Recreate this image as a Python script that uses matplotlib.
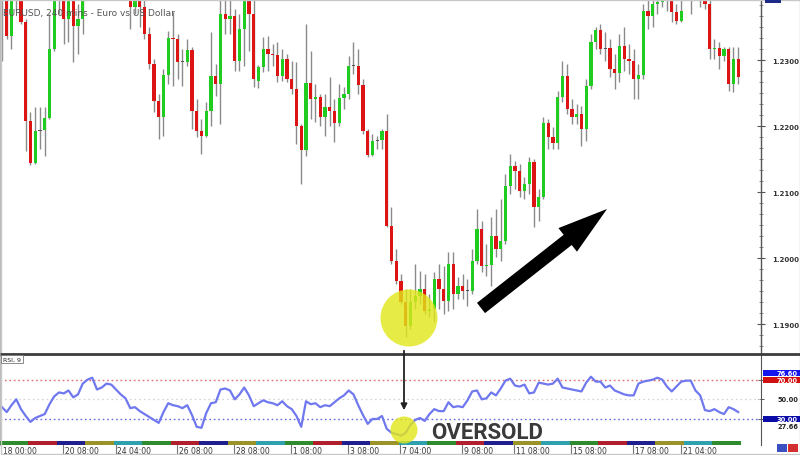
import matplotlib
matplotlib.use('Agg')
import matplotlib.pyplot as plt
import numpy as np
from matplotlib.patches import Rectangle, Circle, FancyArrow
from matplotlib.transforms import blended_transform_factory
from matplotlib.ticker import FixedLocator, AutoMinorLocator, FormatStrFormatter

# ---------------- data (EURUSD, 4-hour candles) ----------------
opens = [1.2423, 1.2408, 1.2337, 1.2401, 1.2393, 1.2358, 1.2208, 1.2144, 1.2193, 1.2194,
         1.2213, 1.2317, 1.2401, 1.2416, 1.2363, 1.2398, 1.2352, 1.2363, 1.2401, 1.2431,
         1.2454, 1.2438, 1.2469, 1.2461, 1.2484, 1.2454, 1.2438, 1.2416, 1.2381, 1.2401,
         1.2381, 1.2340, 1.2294, 1.2238, 1.2214, 1.2278, 1.2334, 1.2332, 1.2297, 1.2297,
         1.2316, 1.2223, 1.2193, 1.2185, 1.2223, 1.2276, 1.2264, 1.2370, 1.2363, 1.2367,
         1.2299, 1.2348, 1.2401, 1.2370, 1.2269, 1.2290, 1.2317, 1.2310, 1.2308, 1.2276,
         1.2302, 1.2272, 1.2257, 1.2200, 1.2164, 1.2266, 1.2241, 1.2244, 1.2214, 1.2229,
         1.2223, 1.2205, 1.2243, 1.2249, 1.2291, 1.2292, 1.2263, 1.2193, 1.2157, 1.2178,
         1.2179, 1.2193, 1.2049, 1.1996, 1.1965, 1.1934, 1.1897, 1.1934, 1.1943, 1.1953,
         1.1920, 1.1923, 1.1969, 1.1953, 1.1935, 1.1991, 1.1946, 1.1958, 1.1950, 1.1951,
         1.1996, 1.2044, 1.1988, 1.1990, 1.2034, 1.2014, 1.2026, 1.2110, 1.2140, 1.2132,
         1.2102, 1.2113, 1.2146, 1.2078, 1.2093, 1.2205, 1.2184, 1.2175, 1.2244, 1.2276,
         1.2226, 1.2214, 1.2219, 1.2196, 1.2261, 1.2328, 1.2346, 1.2317, 1.2318, 1.2287,
         1.2281, 1.2322, 1.2302, 1.2299, 1.2272, 1.2278, 1.2375, 1.2367, 1.2385, 1.2388,
         1.2398, 1.2408, 1.2373, 1.2360, 1.2401, 1.2416, 1.2423, 1.2401, 1.2393, 1.2385,
         1.2317, 1.2319, 1.2307, 1.2317, 1.2264, 1.2302]
closes = [1.2408, 1.2337, 1.2401, 1.2393, 1.2358, 1.2208, 1.2144, 1.2193, 1.2194, 1.2213,
          1.2317, 1.2401, 1.2416, 1.2363, 1.2398, 1.2352, 1.2363, 1.2401, 1.2431, 1.2454,
          1.2438, 1.2469, 1.2461, 1.2484, 1.2454, 1.2438, 1.2416, 1.2381, 1.2401, 1.2381,
          1.2340, 1.2294, 1.2238, 1.2214, 1.2278, 1.2334, 1.2332, 1.2297, 1.2297, 1.2316,
          1.2223, 1.2193, 1.2185, 1.2223, 1.2276, 1.2264, 1.2370, 1.2363, 1.2367, 1.2299,
          1.2348, 1.2401, 1.2370, 1.2272, 1.2290, 1.2317, 1.2310, 1.2308, 1.2276, 1.2302,
          1.2272, 1.2257, 1.2200, 1.2164, 1.2266, 1.2241, 1.2244, 1.2214, 1.2229, 1.2223,
          1.2205, 1.2243, 1.2249, 1.2291, 1.2292, 1.2263, 1.2193, 1.2157, 1.2178, 1.2179,
          1.2193, 1.2049, 1.1996, 1.1965, 1.1934, 1.1897, 1.1934, 1.1943, 1.1953, 1.1920,
          1.1923, 1.1969, 1.1953, 1.1935, 1.1991, 1.1946, 1.1958, 1.1950, 1.1951, 1.1996,
          1.2044, 1.1988, 1.1990, 1.2034, 1.2014, 1.2026, 1.2110, 1.2140, 1.2132, 1.2102,
          1.2113, 1.2146, 1.2078, 1.2093, 1.2205, 1.2184, 1.2175, 1.2244, 1.2276, 1.2226,
          1.2214, 1.2219, 1.2196, 1.2261, 1.2328, 1.2346, 1.2317, 1.2318, 1.2287, 1.2281,
          1.2322, 1.2302, 1.2299, 1.2272, 1.2278, 1.2375, 1.2367, 1.2385, 1.2388, 1.2398,
          1.2408, 1.2373, 1.2360, 1.2375, 1.2416, 1.2423, 1.2431, 1.2393, 1.2385, 1.2317,
          1.2319, 1.2307, 1.2317, 1.2264, 1.2302, 1.2275]
highs = [1.2454, 1.2416, 1.2411, 1.2411, 1.2405, 1.2363, 1.2222, 1.2229, 1.2229, 1.2229,
         1.2370, 1.2423, 1.2438, 1.2431, 1.2408, 1.2408, 1.2385, 1.2416, 1.2446, 1.2469,
         1.2476, 1.2484, 1.2492, 1.2499, 1.2507, 1.2469, 1.2454, 1.2423, 1.2416, 1.2416,
         1.2393, 1.2351, 1.2302, 1.2249, 1.2287, 1.2344, 1.2373, 1.2340, 1.2317, 1.2332,
         1.2320, 1.2241, 1.2211, 1.2237, 1.2343, 1.2294, 1.2393, 1.2401, 1.2393, 1.2378,
         1.2370, 1.2408, 1.2408, 1.2393, 1.2293, 1.2335, 1.2337, 1.2325, 1.2328, 1.2317,
         1.2310, 1.2299, 1.2297, 1.2203, 1.2355, 1.2314, 1.2264, 1.2249, 1.2249, 1.2275,
         1.2241, 1.2264, 1.2260, 1.2307, 1.2328, 1.2317, 1.2272, 1.2196, 1.2188, 1.2185,
         1.2196, 1.2219, 1.2078, 1.2014, 1.1976, 1.1953, 1.1953, 1.1991, 1.1981, 1.1976,
         1.1946, 1.1979, 1.1991, 1.1988, 1.2009, 1.2009, 1.1972, 1.1976, 1.1969, 1.2014,
         1.2075, 1.2056, 1.2022, 1.2063, 1.2075, 1.2090, 1.2128, 1.2158, 1.2147, 1.2143,
         1.2123, 1.2153, 1.2150, 1.2105, 1.2214, 1.2211, 1.2199, 1.2253, 1.2299, 1.2294,
         1.2241, 1.2234, 1.2231, 1.2272, 1.2340, 1.2351, 1.2355, 1.2343, 1.2332, 1.2310,
         1.2340, 1.2351, 1.2325, 1.2317, 1.2294, 1.2385, 1.2393, 1.2401, 1.2401, 1.2408,
         1.2423, 1.2416, 1.2385, 1.2393, 1.2431, 1.2438, 1.2454, 1.2416, 1.2408, 1.2393,
         1.2332, 1.2328, 1.2320, 1.2320, 1.2320, 1.2320]
lows = [1.2299, 1.2332, 1.2317, 1.2375, 1.2355, 1.2163, 1.2141, 1.2143, 1.2166, 1.2155,
        1.2211, 1.2314, 1.2370, 1.2325, 1.2328, 1.2297, 1.2310, 1.2340, 1.2398, 1.2423,
        1.2426, 1.2431, 1.2446, 1.2451, 1.2442, 1.2423, 1.2401, 1.2348, 1.2370, 1.2351,
        1.2332, 1.2287, 1.2222, 1.2181, 1.2185, 1.2264, 1.2261, 1.2272, 1.2261, 1.2291,
        1.2196, 1.2184, 1.2158, 1.2184, 1.2200, 1.2246, 1.2203, 1.2340, 1.2340, 1.2284,
        1.2284, 1.2291, 1.2314, 1.2260, 1.2258, 1.2282, 1.2284, 1.2291, 1.2267, 1.2269,
        1.2267, 1.2249, 1.2173, 1.2113, 1.2155, 1.2211, 1.2207, 1.2200, 1.2185, 1.2200,
        1.2176, 1.2200, 1.2226, 1.2241, 1.2279, 1.2249, 1.2188, 1.2153, 1.2155, 1.2166,
        1.2166, 1.2047, 1.1991, 1.1961, 1.1931, 1.1881, 1.1893, 1.1923, 1.1931, 1.1915,
        1.1911, 1.1903, 1.1923, 1.1915, 1.1920, 1.1923, 1.1938, 1.1938, 1.1928, 1.1946,
        1.1991, 1.1979, 1.1973, 1.1958, 1.2002, 1.1996, 1.2022, 1.2097, 1.2105, 1.2093,
        1.2090, 1.2097, 1.2047, 1.2056, 1.2090, 1.2166, 1.2166, 1.2166, 1.2237, 1.2219,
        1.2203, 1.2203, 1.2170, 1.2178, 1.2257, 1.2317, 1.2310, 1.2299, 1.2275, 1.2257,
        1.2267, 1.2284, 1.2279, 1.2241, 1.2241, 1.2272, 1.2348, 1.2351, 1.2370, 1.2381,
        1.2375, 1.2358, 1.2355, 1.2358, 1.2393, 1.2370, 1.2401, 1.2381, 1.2378, 1.2302,
        1.2302, 1.2287, 1.2299, 1.2254, 1.2252, 1.2264]
rsi = [42, 37, 44, 50, 40, 33, 27, 31, 33, 35,
       45, 53, 57, 56, 59, 52, 55, 66, 70, 72,
       60, 62, 66, 65, 60, 55, 51, 41, 42, 38,
       35, 32, 29, 26, 37, 46, 44, 43, 41, 44,
       34, 22, 21, 36, 46, 47, 60, 61, 59, 50,
       55, 62, 54, 43, 46, 49, 47, 46, 44, 48,
       43, 40, 33, 22, 48, 45, 46, 42, 44, 43,
       47, 51, 54, 59, 55, 44, 34, 25, 30, 30,
       33, 20, 16, 14.6, 13, 16, 24, 29, 31, 28,
       35, 40, 38, 38, 47, 42, 43, 42, 49, 58,
       59, 50, 51, 57, 54, 61, 69, 71, 64, 63,
       65, 56, 57, 67, 66, 65, 66, 71, 62, 61,
       60, 59, 58, 67, 73, 68, 68, 62, 64, 59,
       57, 55, 54, 54, 66, 68, 69, 70, 72, 70,
       63, 58, 63, 68, 69, 69, 59, 54, 39, 38,
       40, 37, 35, 42, 40, 37]
tick_idx = [0, 13, 24, 37, 49, 61, 73, 84, 97, 108, 120, 133, 143]
tick_labels = ["18 00:00", "20 08:00", "24 04:00", "26 08:00", "28 08:00", "1 08:00",
               "3 08:00", "7 04:00", "9 08:00", "11 08:00", "15 08:00", "17 08:00", "21 04:00"]
price_ticks = [1.19, 1.20, 1.21, 1.22, 1.23]
rsi_levels = [30, 50, 70]
rsi_tags = ["76.60", "70.00", "50.00", "30.00", "27.66"]
candles_per_day = 6
day_colors = ['#2e8b2e', '#b0202c', '#1f1f8f', '#9a9428', '#2fa0ae']

# ---------------- layout helpers ----------------
W, H = 800, 456
fig = plt.figure(figsize=(W / 100, H / 100), dpi=100)
fig.patch.set_facecolor('white')


def px_axes(x0, y0, x1, y1, **kw):
    return fig.add_axes([x0 / W, 1 - y1 / H, (x1 - x0) / W, (y1 - y0) / H], **kw)


ax_p = px_axes(0, 0, 761, 354)
ax_r = px_axes(0, 356, 761, 446)

n = len(closes)
x = np.arange(n)
o = np.array(opens)
c = np.array(closes)
hi = np.array(highs)
lo = np.array(lows)
xlim = (-0.42, 159.8)

# ---------------- candles ----------------
ax_p.vlines(x, lo, hi, color='#8a8a8a', lw=1.0, zorder=2)
diff = c - o
body_bottom = np.minimum(o, c)
body_h = np.maximum(np.abs(diff), 0.00013)
cols = []
for d in diff:
    if abs(d) <= 0.00011:
        cols.append('#555555')
    elif d > 0:
        cols.append('#1fcc1f')
    else:
        cols.append('#dc1414')
ax_p.bar(x, body_h, bottom=body_bottom, width=0.66, color=cols, edgecolor='none', zorder=3)
ax_p.set_xlim(*xlim)
ax_p.set_ylim(1.18563, 1.2393)
ax_p.set_xticks([])
ax_p.yaxis.tick_right()
ax_p.yaxis.set_major_locator(FixedLocator(price_ticks))
ax_p.yaxis.set_major_formatter(FormatStrFormatter('%.4f'))
ax_p.yaxis.set_minor_locator(AutoMinorLocator(6))
ax_p.tick_params(axis='y', which='major', direction='inout', length=6, width=0.8,
                 color='#555555', pad=5, labelsize=5, labelcolor='#333333')
ax_p.tick_params(axis='y', which='minor', direction='inout', length=3.5, width=0.6, color='#777777')
for lab in ax_p.get_yticklabels():
    lab.set_fontweight('bold')
for s in ['top', 'left']:
    ax_p.spines[s].set_color('#bbbbbb')
    ax_p.spines[s].set_linewidth(0.8)
ax_p.spines['bottom'].set_visible(False)
ax_p.spines['right'].set_color('#555555')
ax_p.spines['right'].set_linewidth(1.0)

# ---------------- RSI ----------------
ax_r.plot(x, rsi, color='#6f78ee', lw=1.6, zorder=3)
ax_r.axhline(rsi_levels[2], color='#e46a6a', lw=1.0, ls=(0, (1.2, 2)), zorder=2)
ax_r.axhline(rsi_levels[1], color='#d0d0d0', lw=0.9, ls=(0, (1.2, 2.5)), zorder=2)
ax_r.axhline(rsi_levels[0], color='#6a6ae4', lw=1.0, ls=(0, (1.2, 2)), zorder=2)
ax_r.set_xlim(*xlim)
ax_r.set_ylim(3.5, 95.1)
ax_r.set_xticks([])
ax_r.yaxis.tick_right()
ax_r.set_yticks(rsi_levels)
ax_r.set_yticklabels([])
ax_r.tick_params(axis='y', direction='inout', length=4, width=0.7, color='#555555')
ax_r.spines['top'].set_visible(False)
ax_r.spines['bottom'].set_visible(False)
ax_r.spines['left'].set_color('#bbbbbb')
ax_r.spines['right'].set_color('#555555')

blend = blended_transform_factory(ax_r.transData, ax_r.transAxes)
for g in range(n // candles_per_day):
    ax_r.add_patch(Rectangle((g * candles_per_day - 0.5, 0), candles_per_day, 0.04,
                             transform=blend, color=day_colors[g % len(day_colors)],
                             lw=0, zorder=4, clip_on=False))
for idx, lab in zip(tick_idx, tick_labels):
    ax_r.text(idx + 0.3, -0.06, lab, transform=blend, ha='left', va='center',
              fontsize=5.5, color='#333333', clip_on=False)
    if idx > 0:
        ax_r.plot([idx - 0.1, idx - 0.1], [-0.005, -0.1], transform=blend,
                  color='#777777', lw=0.8, clip_on=False)

# ---------------- overlay annotations (pixel coords) ----------------
ax_o = fig.add_axes([0, 0, 1, 1], zorder=10)
ax_o.set_xlim(0, W)
ax_o.set_ylim(H, 0)
ax_o.axis('off')
ax_o.patch.set_alpha(0)

ax_o.plot([0, W], [355, 355], color='#3c3c3c', lw=2, solid_capstyle='butt')
ax_o.add_patch(Rectangle((0.5, 0.5), W - 1, H - 1, fill=False, ec='#c8c8c8', lw=1))

ax_o.text(3, 13.5, 'EURUSD, 240 mins - Euro vs US Dollar', fontsize=6.5, color='#555555',
          va='center', ha='left')
ax_o.text(3, 360, 'RSI, 9', fontsize=4.5, color='#222222', va='center', ha='left',
          bbox=dict(boxstyle='square,pad=0.25', fc='white', ec='#777777', lw=0.6))

ax_o.add_patch(Circle((409, 319), 28.5, color='#e2e718', alpha=0.8, lw=0))
ax_o.add_patch(Circle((404, 431), 13.5, color='#e2e718', alpha=0.8, lw=0))
ax_o.annotate('', xy=(404, 414), xytext=(404, 349),
              arrowprops=dict(arrowstyle='-|>', color='#222222', lw=1.3, mutation_scale=9))
ax_o.add_patch(FancyArrow(481, 309, 126, -99, width=13, head_width=30, head_length=50,
                          length_includes_head=True, color='black', lw=0))
ax_o.text(431, 433, 'OVERSOLD', ha='left', va='center', fontsize=16, fontweight='bold',
          color='#3a3a3a', family=['Liberation Sans Narrow', 'Roboto', 'DejaVu Sans'])

# right side tags
ax_o.add_patch(Rectangle((765, 1), 16, 3, color='#1c2a8a', lw=0))
tag_specs = [(374, '#1515ee', 'white', rsi_tags[0]), (381, '#d01010', 'white', rsi_tags[1]),
             (400, None, '#222222', rsi_tags[2]), (427, None, '#222222', rsi_tags[4]),
             (420, '#0b0ba8', 'white', rsi_tags[3])]
for yy, bg, fg, txt in tag_specs:
    if bg is not None:
        ax_o.add_patch(Rectangle((763, yy - 3.3), 37, 6.6, color=bg, lw=0))
    ax_o.text(798, yy, txt, ha='right', va='center', fontsize=4.8, fontweight='bold', color=fg)

ax_o.add_patch(Rectangle((777, 445), 10, 8, color='#3a4fc0', lw=0))
ax_o.add_patch(Rectangle((788, 445), 10, 8, color='#d23030', lw=0))

fig.savefig('out.png', dpi=100)
